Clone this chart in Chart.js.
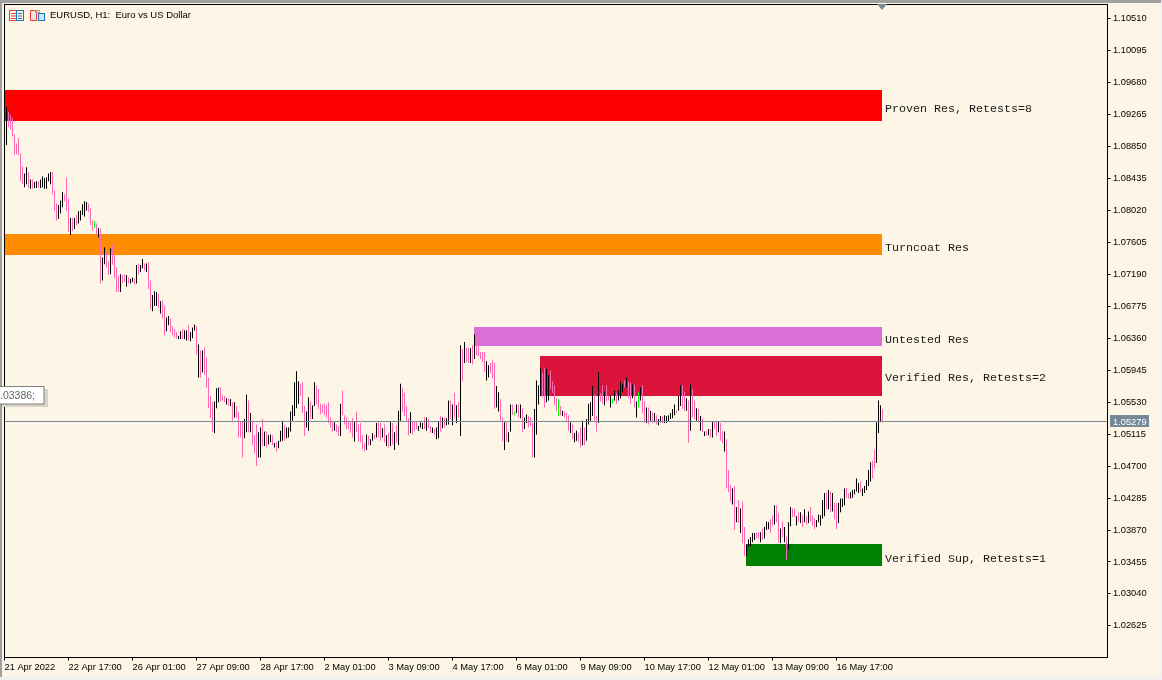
<!DOCTYPE html>
<html>
<head>
<meta charset="utf-8">
<title>EURUSD, H1</title>
<script src="https://cdn.jsdelivr.net/npm/chart.js@4"></script>
<style>
  html, body { margin: 0; padding: 0; background: #FDF5E6; overflow: hidden; }
  canvas { display: block; }
</style>
</head>
<body>
<canvas id="priceChart" width="1162" height="680"></canvas>
<script>
// Chart text
const chartTitle = 'EURUSD, H1:  Euro vs US Dollar';
const bidPrice = 1.05279;
const tooltipText = '.03386;';

// Axis ticks (x ticks are bar numbers, one bar per hour)
const priceTicks = [1.10510, 1.10095, 1.09680, 1.09265, 1.08850, 1.08435, 1.08020, 1.07605, 1.07190, 1.06775,
  1.06360, 1.05945, 1.05530, 1.05115, 1.04700, 1.04285, 1.03870, 1.03455, 1.03040, 1.02625];
const timeTicks = [-1, 31, 63, 95, 127, 159, 191, 223, 255, 287, 319, 351, 383, 415];
const timeLabels = ['21 Apr 2022', '22 Apr 17:00', '26 Apr 01:00', '27 Apr 09:00', '28 Apr 17:00', '2 May 01:00', '3 May 09:00',
  '4 May 17:00', '6 May 01:00', '9 May 09:00', '10 May 17:00', '12 May 01:00', '13 May 09:00', '16 May 17:00'];

// Supply and demand zones
const zoneLabels = ['Proven Res, Retests=8', 'Turncoat Res', 'Untested Res', 'Verified Res, Retests=2', 'Verified Sup, Retests=1'];
const zoneFrom = [-1, -1, 233.75, 266.75, 369.75];
const zoneTo = [437.75, 437.75, 437.75, 437.75, 437.75];
const zoneTop = [1.09584, 1.07714, 1.06506, 1.06129, 1.03688];
const zoneBottom = [1.09181, 1.07441, 1.06259, 1.05610, 1.03402];
const zoneLabelPrice = [1.09337, 1.07532, 1.06337, 1.05850, 1.03500];
const zoneColors = ['#FF0000', '#FF8C00', '#DA70D6', '#DC143C', '#008000'];

// Hourly bars
const barHighs = [
  1.0936,1.0930,1.0926,1.0922,1.0901,1.0889,1.0896,1.0876,1.0859,1.0850,
  1.0858,1.0852,1.0842,1.0842,1.0839,1.0840,1.0840,1.0842,1.0846,1.0844,
  1.0845,1.0850,1.0852,1.0852,1.0828,1.0811,1.0809,1.0815,1.0826,1.0823,
  1.0845,1.0817,1.0792,1.0792,1.0792,1.0796,1.0801,1.0802,1.0810,1.0814,
  1.0813,1.0811,1.0805,1.0789,1.0788,1.0785,1.0779,1.0778,1.0741,1.0754,
  1.0748,1.0736,1.0753,1.0758,1.0744,1.0728,1.0717,1.0719,1.0718,1.0719,
  1.0718,1.0715,1.0713,1.0715,1.0714,1.0731,1.0733,1.0731,1.0739,1.0733,
  1.0733,1.0735,1.0711,1.0692,1.0697,1.0696,1.0694,1.0684,1.0685,1.0678,
  1.0663,1.0665,1.0662,1.0652,1.0648,1.0644,1.0639,1.0645,1.0648,1.0646,
  1.0646,1.0653,1.0644,1.0650,1.0654,1.0652,1.0628,1.0620,1.0620,1.0624,
  1.0611,1.0585,1.0561,1.0553,1.0554,1.0571,1.0572,1.0572,1.0562,1.0561,
  1.0558,1.0558,1.0557,1.0553,1.0553,1.0548,1.0540,1.0528,1.0529,1.0531,
  1.0563,1.0555,1.0539,1.0529,1.0510,1.0524,1.0514,1.0520,1.0531,1.0515,
  1.0515,1.0510,1.0511,1.0510,1.0500,1.0501,1.0503,1.0516,1.0529,1.0523,
  1.0520,1.0520,1.0541,1.0549,1.0579,1.0593,1.0580,1.0577,1.0579,1.0548,
  1.0541,1.0559,1.0554,1.0549,1.0579,1.0575,1.0570,1.0551,1.0550,1.0551,
  1.0549,1.0553,1.0533,1.0527,1.0527,1.0524,1.0522,1.0551,1.0568,1.0536,
  1.0533,1.0529,1.0527,1.0532,1.0528,1.0541,1.0524,1.0526,1.0510,1.0500,
  1.0511,1.0509,1.0505,1.0513,1.0511,1.0526,1.0527,1.0526,1.0519,1.0524,
  1.0510,1.0513,1.0528,1.0526,1.0514,1.0523,1.0542,1.0577,1.0572,1.0565,
  1.0548,1.0532,1.0540,1.0529,1.0527,1.0527,1.0522,1.0527,1.0526,1.0533,
  1.0533,1.0531,1.0522,1.0520,1.0518,1.0520,1.0528,1.0535,1.0533,1.0533,
  1.0532,1.0555,1.0555,1.0550,1.0565,1.0549,1.0553,1.0627,1.0622,1.0631,
  1.0624,1.0624,1.0623,1.0627,1.0641,1.0636,1.0627,1.0618,1.0618,1.0618,
  1.0606,1.0601,1.0604,1.0607,1.0604,1.0574,1.0566,1.0557,1.0533,1.0527,
  1.0527,1.0514,1.0550,1.0550,1.0541,1.0550,1.0550,1.0550,1.0545,1.0533,
  1.0537,1.0535,1.0533,1.0526,1.0544,1.0581,1.0575,1.0598,1.0591,1.0597,
  1.0596,1.0588,1.0594,1.0580,1.0575,1.0558,1.0557,1.0548,1.0542,1.0541,
  1.0539,1.0536,1.0527,1.0524,1.0513,1.0516,1.0513,1.0520,1.0529,1.0520,
  1.0531,1.0551,1.0553,1.0574,1.0563,1.0535,1.0592,1.0565,1.0575,1.0567,
  1.0575,1.0561,1.0562,1.0558,1.0568,1.0565,1.0568,1.0580,1.0577,1.0581,
  1.0585,1.0579,1.0579,1.0576,1.0576,1.0554,1.0566,1.0572,1.0575,1.0554,
  1.0546,1.0546,1.0542,1.0540,1.0539,1.0536,1.0531,1.0535,1.0535,1.0536,
  1.0535,1.0536,1.0539,1.0544,1.0550,1.0542,1.0561,1.0575,1.0575,1.0567,
  1.0558,1.0555,1.0577,1.0570,1.0555,1.0545,1.0544,1.0535,1.0532,1.0515,
  1.0516,1.0518,1.0518,1.0528,1.0528,1.0529,1.0528,1.0526,1.0515,1.0515,
  1.0505,1.0465,1.0446,1.0441,1.0444,1.0417,1.0426,1.0415,1.0424,1.0391,
  1.0368,1.0375,1.0378,1.0383,1.0383,1.0384,1.0384,1.0384,1.0389,1.0391,
  1.0398,1.0397,1.0401,1.0406,1.0419,1.0419,1.0409,1.0389,1.0398,1.0391,
  1.0379,1.0397,1.0417,1.0415,1.0415,1.0405,1.0410,1.0410,1.0406,1.0414,
  1.0405,1.0411,1.0417,1.0406,1.0402,1.0400,1.0407,1.0406,1.0426,1.0435,
  1.0436,1.0439,1.0437,1.0435,1.0422,1.0422,1.0422,1.0428,1.0428,1.0441,
  1.0442,1.0435,1.0436,1.0439,1.0440,1.0454,1.0448,1.0450,1.0441,1.0444,
  1.0452,1.0465,1.0475,1.0477,1.0492,1.0527,1.0555,1.0549,1.0544
];
const barLows = [
  1.0887,1.0910,1.0907,1.0898,1.0874,1.0875,1.0874,1.0840,1.0836,1.0832,
  1.0836,1.0831,1.0830,1.0830,1.0831,1.0831,1.0832,1.0831,1.0832,1.0830,
  1.0830,1.0840,1.0836,1.0823,1.0801,1.0789,1.0791,1.0798,1.0806,1.0814,
  1.0801,1.0774,1.0770,1.0775,1.0778,1.0783,1.0785,1.0789,1.0796,1.0794,
  1.0802,1.0800,1.0783,1.0776,1.0779,1.0771,1.0767,1.0707,1.0711,1.0732,
  1.0728,1.0718,1.0719,1.0731,1.0714,1.0696,1.0696,1.0696,1.0707,1.0709,
  1.0703,1.0707,1.0707,1.0709,1.0706,1.0707,1.0719,1.0722,1.0727,1.0724,
  1.0722,1.0700,1.0674,1.0671,1.0678,1.0678,1.0675,1.0668,1.0662,1.0640,
  1.0645,1.0653,1.0644,1.0640,1.0637,1.0636,1.0635,1.0635,1.0635,1.0635,
  1.0633,1.0633,1.0632,1.0636,1.0646,1.0615,1.0585,1.0585,1.0592,1.0589,
  1.0572,1.0545,1.0532,1.0514,1.0513,1.0545,1.0553,1.0554,1.0555,1.0553,
  1.0550,1.0548,1.0548,1.0529,1.0533,1.0532,1.0507,1.0507,1.0481,1.0506,
  1.0514,1.0514,1.0514,1.0497,1.0487,1.0470,1.0481,1.0481,1.0496,1.0496,
  1.0494,1.0498,1.0501,1.0497,1.0494,1.0489,1.0493,1.0502,1.0503,1.0503,
  1.0506,1.0507,1.0515,1.0529,1.0535,1.0545,1.0551,1.0561,1.0539,1.0509,
  1.0520,1.0516,1.0531,1.0531,1.0548,1.0550,1.0544,1.0537,1.0539,1.0536,
  1.0533,1.0526,1.0520,1.0515,1.0516,1.0514,1.0509,1.0509,1.0536,1.0524,
  1.0518,1.0518,1.0513,1.0507,1.0502,1.0514,1.0502,1.0501,1.0492,1.0489,
  1.0491,1.0497,1.0497,1.0503,1.0505,1.0507,1.0507,1.0503,1.0507,1.0501,
  1.0496,1.0494,1.0496,1.0498,1.0491,1.0500,1.0497,1.0529,1.0541,1.0535,
  1.0529,1.0510,1.0513,1.0511,1.0516,1.0518,1.0516,1.0520,1.0518,1.0518,
  1.0516,1.0519,1.0513,1.0513,1.0510,1.0505,1.0506,1.0515,1.0519,1.0520,
  1.0523,1.0524,1.0531,1.0523,1.0533,1.0526,1.0533,1.0509,1.0580,1.0604,
  1.0605,1.0604,1.0604,1.0602,1.0609,1.0614,1.0613,1.0609,1.0605,1.0592,
  1.0581,1.0585,1.0591,1.0584,1.0544,1.0546,1.0541,1.0529,1.0502,1.0491,
  1.0502,1.0501,1.0515,1.0536,1.0536,1.0539,1.0533,1.0532,1.0514,1.0518,
  1.0526,1.0520,1.0522,1.0481,1.0481,1.0511,1.0550,1.0561,1.0559,1.0546,
  1.0553,1.0555,1.0570,1.0565,1.0549,1.0542,1.0535,1.0536,1.0535,1.0533,
  1.0529,1.0516,1.0513,1.0505,1.0501,1.0503,1.0502,1.0494,1.0497,1.0497,
  1.0503,1.0524,1.0529,1.0535,1.0529,1.0515,1.0526,1.0554,1.0551,1.0549,
  1.0554,1.0555,1.0546,1.0551,1.0555,1.0551,1.0555,1.0558,1.0566,1.0572,
  1.0572,1.0558,1.0551,1.0558,1.0546,1.0533,1.0546,1.0555,1.0539,1.0527,
  1.0526,1.0524,1.0529,1.0526,1.0527,1.0524,1.0523,1.0527,1.0526,1.0526,
  1.0526,1.0528,1.0531,1.0532,1.0536,1.0539,1.0542,1.0548,1.0544,1.0542,
  1.0542,1.0500,1.0516,1.0533,1.0531,1.0529,1.0527,1.0516,1.0514,1.0509,
  1.0510,1.0510,1.0507,1.0507,1.0518,1.0509,1.0514,1.0503,1.0500,1.0489,
  1.0441,1.0436,1.0424,1.0420,1.0387,1.0397,1.0396,1.0383,1.0370,1.0353,
  1.0353,1.0365,1.0366,1.0371,1.0374,1.0376,1.0376,1.0371,1.0374,1.0376,
  1.0387,1.0388,1.0383,1.0393,1.0394,1.0397,1.0371,1.0370,1.0378,1.0371,
  1.0348,1.0362,1.0392,1.0404,1.0404,1.0393,1.0397,1.0396,1.0391,1.0397,
  1.0394,1.0396,1.0398,1.0393,1.0388,1.0391,1.0397,1.0393,1.0402,1.0405,
  1.0414,1.0414,1.0410,1.0411,1.0401,1.0388,1.0396,1.0410,1.0417,1.0419,
  1.0429,1.0428,1.0428,1.0429,1.0433,1.0437,1.0435,1.0436,1.0431,1.0435,
  1.0439,1.0444,1.0450,1.0454,1.0467,1.0474,1.0513,1.0527,1.0527
];
// 1 = bull bar, -1 = bear bar, 0 = doji
const barDirs = [
  1,-1,-1,-1,-1,-1,-1,-1,-1,1,
  1,-1,1,-1,1,1,-1,1,1,1,
  1,1,1,-1,-1,-1,1,1,1,-1,
  -1,-1,1,-1,1,-1,1,1,1,1,
  1,-1,-1,-1,0,-1,1,-1,1,1,
  -1,-1,1,-1,-1,-1,-1,1,-1,-1,
  1,-1,1,1,-1,1,-1,1,1,-1,
  1,-1,-1,1,1,1,-1,1,-1,-1,
  1,1,-1,-1,-1,-1,1,1,-1,1,
  1,-1,1,1,1,-1,1,-1,1,-1,
  -1,-1,-1,-1,1,1,1,-1,-1,-1,
  1,-1,1,-1,1,-1,-1,-1,-1,1,
  1,-1,1,-1,-1,-1,1,1,-1,1,
  -1,1,1,-1,1,-1,1,1,1,-1,
  1,1,1,1,1,1,1,-1,-1,-1,
  1,1,-1,1,1,-1,-1,-1,-1,-1,
  -1,-1,-1,-1,1,-1,-1,1,-1,-1,
  -1,-1,-1,-1,1,-1,-1,-1,-1,-1,
  1,-1,1,1,-1,1,-1,-1,1,-1,
  1,-1,1,-1,1,-1,1,1,-1,-1,
  -1,-1,1,-1,-1,-1,1,1,1,-1,
  1,-1,-1,1,-1,1,1,-1,1,-1,
  1,1,-1,1,-1,1,-1,1,-1,1,
  -1,-1,1,-1,1,-1,-1,-1,-1,-1,
  1,1,-1,-1,-1,1,1,-1,-1,1,
  -1,1,1,-1,0,1,-1,1,-1,1,
  1,-1,-1,-1,1,1,1,1,-1,-1,
  1,1,-1,-1,-1,-1,0,-1,1,-1,
  -1,-1,1,-1,1,1,-1,-1,1,-1,
  1,1,1,1,-1,-1,1,-1,-1,1,
  -1,-1,1,0,1,-1,1,1,1,-1,
  1,-1,-1,1,-1,1,0,1,-1,-1,
  1,-1,1,-1,1,-1,1,1,-1,1,
  1,1,1,1,1,-1,1,1,-1,-1,
  1,-1,1,-1,-1,1,-1,1,-1,1,
  -1,1,-1,1,-1,-1,1,-1,-1,1,
  -1,-1,-1,1,-1,1,-1,1,-1,-1,
  1,1,1,1,1,-1,-1,1,-1,1,
  1,1,-1,-1,1,-1,-1,1,-1,1,
  -1,1,1,-1,-1,1,-1,1,-1,1,
  -1,1,-1,-1,-1,1,1,1,1,1,
  -1,1,-1,1,-1,-1,1,1,1,1,
  -1,-1,1,1,1,1,1,-1,1,1,
  1,1,1,-1,-1,1,1,1,-1
];

// Colours
const CREAM = '#FDF5E6';
const BID_GREY = '#778899';
const barColors = { '1': '#000000', '-1': '#FF69B4', '0': '#00FF00' };

const uiFont = '"Liberation Sans", Arial, sans-serif';

function getBarDataset() {
  return {
    type: 'bar',
    order: 2,
    barThickness: 1,
    borderWidth: 0,
    inflateAmount: 0,
    backgroundColor: barDirs.map(d => barColors[d]),
    data: barHighs.map((high, i) => ({ x: i, y: [barLows[i], high] }))
  };
}

function getZoneDatasets() {
  return zoneLabels.map((label, i) => ({
    type: 'line',
    label: label,
    order: 3,
    pointRadius: 0,
    borderWidth: 0,
    tension: 0,
    backgroundColor: zoneColors[i],
    fill: { value: zoneBottom[i] },
    data: [{ x: zoneFrom[i], y: zoneTop[i] }, { x: zoneTo[i], y: zoneTop[i] }]
  }));
}

function getBidDataset() {
  return {
    type: 'line',
    order: 1,
    pointRadius: 0,
    borderWidth: 1,
    borderColor: BID_GREY,
    data: [{ x: -1, y: bidPrice }, { x: 550.5, y: bidPrice }]
  };
}

// Terminal window bits that are not marks: frame, title, icons, zone captions, bid tag, tooltip
const terminalPlugin = {
  id: 'terminal',
  beforeDraw(chart) {
    const ctx = chart.ctx;
    ctx.save();
    ctx.fillStyle = CREAM;
    ctx.fillRect(0, 0, chart.width, chart.height);
    ctx.fillStyle = '#A0A0A0';
    ctx.fillRect(0, 0, chart.width, 3);
    ctx.fillRect(0, 0, 2, chart.height);
    ctx.fillStyle = '#F0F0F0';
    ctx.fillRect(0, 677, chart.width, 3);
    ctx.fillRect(1161, 0, 1, chart.height);
    ctx.restore();
  },
  afterDraw(chart) {
    const ctx = chart.ctx;
    const { left, top, right, bottom } = chart.chartArea;
    const y = chart.scales.y;
    ctx.save();

    // plot frame
    ctx.strokeStyle = '#000000';
    ctx.lineWidth = 1;
    ctx.strokeRect(left, top, right - left, bottom - top);

    // title and icons
    drawIcons(ctx);
    ctx.fillStyle = '#000000';
    ctx.font = '9.5px ' + uiFont;
    ctx.textAlign = 'left';
    ctx.textBaseline = 'middle';
    ctx.fillText(chartTitle, 50, 15.5);

    // zone captions
    ctx.font = '11.67px "Liberation Mono", "Courier New", monospace';
    ctx.fillStyle = '#1A1A1A';
    zoneLabels.forEach((label, i) => {
      ctx.fillText(label, 885, y.getPixelForValue(zoneLabelPrice[i]));
    });

    // bid tag on the price axis
    const bidY = y.getPixelForValue(bidPrice);
    ctx.fillStyle = BID_GREY;
    ctx.fillRect(1110, Math.round(bidY) - 6, 39, 12);
    ctx.fillStyle = '#FFFFFF';
    ctx.font = '9.3px ' + uiFont;
    ctx.fillText(bidPrice.toFixed(5), 1113, bidY + 0.5);

    // shift marker at the top edge
    ctx.fillStyle = BID_GREY;
    ctx.beginPath();
    ctx.moveTo(877, 4);
    ctx.lineTo(887, 4);
    ctx.lineTo(882, 10);
    ctx.closePath();
    ctx.fill();

    // clipped tooltip on the left
    ctx.fillStyle = '#D8D4C8';
    ctx.fillRect(2, 389, 46, 18);
    ctx.fillStyle = '#FFFFFF';
    ctx.fillRect(0, 387, 44, 17);
    ctx.strokeStyle = '#808080';
    ctx.strokeRect(-1, 386.5, 45, 17.5);
    ctx.fillStyle = '#666666';
    ctx.font = '10.5px ' + uiFont;
    ctx.fillText(tooltipText, 0, 396);

    ctx.restore();
  }
};

function drawIcons(ctx) {
  const red = '#E8413C';
  const blue = '#1E73BE';

  // table icon
  ctx.lineWidth = 1;
  ctx.strokeStyle = red;
  ctx.strokeRect(9.5, 10.5, 7, 10);
  ctx.strokeStyle = blue;
  ctx.strokeRect(16.5, 10.5, 7, 10);
  [13, 15.5, 18].forEach(ly => {
    ctx.fillStyle = red;
    ctx.fillRect(11, ly, 5, 1);
    ctx.fillStyle = blue;
    ctx.fillRect(18, ly, 4, 1);
  });

  // market watch icon
  ctx.fillStyle = '#FBE3DC';
  ctx.fillRect(31, 11, 6, 9);
  ctx.fillStyle = '#CFE3F3';
  ctx.fillRect(38, 14, 6, 6);
  ctx.strokeStyle = red;
  ctx.strokeRect(30.5, 10.5, 6, 10);
  ctx.strokeStyle = blue;
  ctx.strokeRect(38.5, 13.5, 6, 7);
  ctx.strokeStyle = '#A8A8A8';
  ctx.strokeRect(35.5, 10.5, 4, 2);
}

function noAxisPadding(scale) {
  scale.paddingTop = 0;
  scale.paddingBottom = 0;
  scale.paddingLeft = 0;
  scale.paddingRight = 0;
}

new Chart(document.getElementById('priceChart').getContext('2d'), {
  type: 'bar',
  data: {
    datasets: [getBidDataset(), getBarDataset(), ...getZoneDatasets()]
  },
  options: {
    responsive: false,
    animation: false,
    events: [],
    layout: { padding: { left: 4.5, top: 4.5, right: 0, bottom: 0 } },
    plugins: {
      legend: { display: false },
      tooltip: { enabled: false },
      title: { display: false }
    },
    scales: {
      x: {
        type: 'linear',
        offset: false,
        min: -1,
        max: 550.5,
        afterBuildTicks: scale => { scale.ticks = timeTicks.map(v => ({ value: v })); },
        afterFit: scale => { scale.height = 22.5; noAxisPadding(scale); },
        grid: { offset: false, drawOnChartArea: false, drawTicks: true, tickLength: 3, tickColor: '#000000', tickWidth: 1 },
        border: { display: true, color: '#000000', width: 1 },
        ticks: {
          align: 'start',
          autoSkip: false,
          maxRotation: 0,
          padding: 1,
          color: '#000000',
          font: { family: uiFont, size: 9.3 },
          callback: value => timeLabels[timeTicks.indexOf(value)]
        }
      },
      y: {
        type: 'linear',
        position: 'right',
        min: 1.022144,
        max: 1.106937,
        afterBuildTicks: scale => { scale.ticks = priceTicks.map(v => ({ value: v })); },
        afterFit: scale => { scale.width = 54.5; noAxisPadding(scale); },
        grid: { drawOnChartArea: false, drawTicks: true, tickLength: 3, tickColor: '#000000', tickWidth: 1 },
        border: { display: true, color: '#000000', width: 1 },
        ticks: {
          autoSkip: false,
          padding: 2.5,
          color: '#000000',
          font: { family: uiFont, size: 9.3 },
          callback: value => value.toFixed(5)
        }
      }
    }
  },
  plugins: [terminalPlugin]
});
</script>
</body>
</html>
